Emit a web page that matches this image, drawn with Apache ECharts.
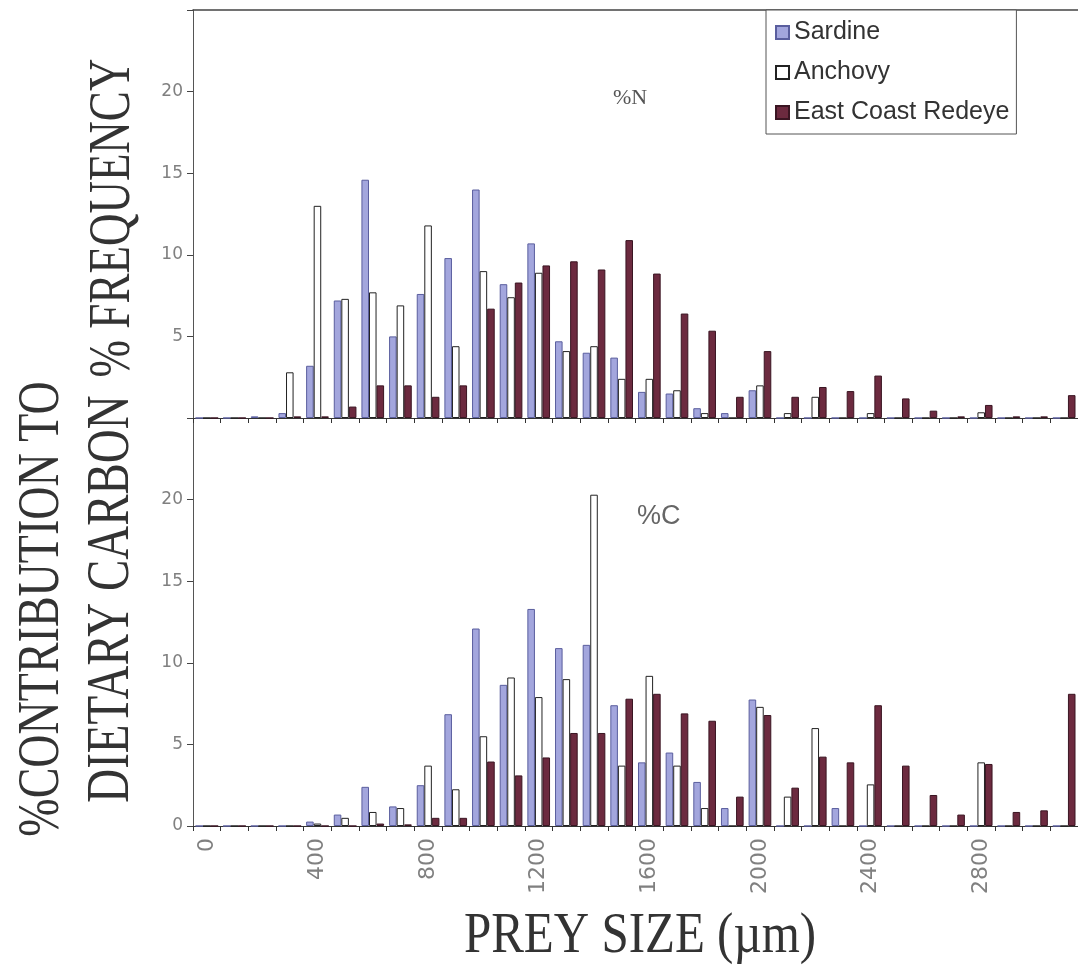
<!DOCTYPE html>
<html>
<head>
<meta charset="utf-8">
<script src="https://cdn.jsdelivr.net/npm/echarts@6/dist/echarts.min.js"></script>
<style>
html,body{margin:0;padding:0;background:#fff;}
#chart{width:1078px;height:966px;}
</style>
</head>
<body>
<div id="chart"></div>
<script>
// Prey size classes (µm)
const categories = ['0','100','200','300','400','500','600','700','800','900','1000','1100','1200','1300','1400','1500',
  '1600','1700','1800','1900','2000','2100','2200','2300','2400','2500','2600','2700','2800','2900','3000','3100'];
const yTicks = [0, 5, 10, 15, 20, 25];

// %N (frequency)
const sardineN = [0,0,0.1,0.3,3.2,7.2,14.6,5.0,7.6,9.8,14.0,8.2,10.7,4.7,4.0,3.7,1.6,1.5,0.6,0.3,1.7,0,0,0,0,0,0,0,0,0,0,0];
const anchovyN = [0,0,0,2.8,13.0,7.3,7.7,6.9,11.8,4.4,9.0,7.4,8.9,4.1,4.4,2.4,2.4,1.7,0.3,0,2.0,0.3,1.3,0,0.3,0,0,0,0.35,0,0,0];
const redeyeN  = [0,0,0,0.1,0.1,0.7,2.0,2.0,1.3,2.0,6.7,8.3,9.35,9.6,9.1,10.9,8.85,6.4,5.35,1.3,4.1,1.3,1.9,1.65,2.6,1.2,0.45,0.1,0.8,0.1,0.1,1.4];

// %C (contribution to dietary carbon)
const sardineC = [0,0,0,0,0.27,0.7,2.4,1.2,2.5,6.85,12.1,8.65,13.3,10.9,11.1,7.4,3.9,4.5,2.7,1.1,7.75,0,0,1.1,0,0,0,0,0,0,0,0];
const anchovyC = [0,0,0,0,0.15,0.5,0.86,1.1,3.7,2.25,5.5,9.1,7.9,9.0,20.3,3.7,9.2,3.7,1.1,0,7.3,1.8,6.0,0,2.55,0,0,0,3.9,0,0,0];
const redeyeC  = [0,0,0,0,0,0,0.15,0.1,0.5,0.5,3.95,3.1,4.2,5.7,5.7,7.8,8.1,6.9,6.45,1.8,6.8,2.35,4.25,3.9,7.4,3.7,1.9,0.7,3.8,0.86,0.96,8.1];

const names = ['Sardine', 'Anchovy', 'East Coast Redeye'];
const styles = [
  {color: '#a3a6dd', borderColor: '#5a5e9e', borderWidth: 1},
  {color: '#ffffff', borderColor: '#222222', borderWidth: 1},
  {color: '#6c2a3f', borderColor: '#3a1522', borderWidth: 1}
];

const chart = echarts.init(document.getElementById('chart'), null, {renderer: 'canvas'});

const yMin = yTicks[0], yMax = yTicks[yTicks.length - 1], yStep = yTicks[1] - yTicks[0];

function xAxisFor(gridIndex, showLabels) {
  return {
    type: 'category', gridIndex: gridIndex, data: categories,
    boundaryGap: true,
    axisLine: {lineStyle: {color: '#333', width: 1.2}},
    axisTick: {show: true, interval: 0, length: 5, lineStyle: {color: '#333'}},
    axisLabel: {
      show: showLabels, interval: 3, rotate: 90, margin: 12,
      color: '#808080', fontFamily: 'DejaVu Sans', fontSize: 22
    },
    splitLine: {show: false}
  };
}
function yAxisFor(gridIndex, hideZero) {
  return {
    type: 'value', gridIndex: gridIndex, min: yMin, max: yMax, interval: yStep,
    axisLine: {show: true, lineStyle: {color: '#555', width: 1}},
    axisTick: {show: true, length: 6, lineStyle: {color: '#444'}},
    axisLabel: {
      color: '#808080', fontFamily: 'DejaVu Sans', fontSize: 17, margin: 10,
      formatter: function (v) {
        if (v === yMax) return '';
        if (hideZero && v === 0) return '';
        return String(v);
      }
    },
    splitLine: {show: false}
  };
}

const seriesList = [];
[[sardineN, anchovyN, redeyeN], [sardineC, anchovyC, redeyeC]].forEach(function (group, g) {
  group.forEach(function (arr, i) {
    seriesList.push({
      name: names[i], type: 'bar', xAxisIndex: g, yAxisIndex: g,
      data: arr, barGap: '0%', barCategoryGap: '18%',
      itemStyle: styles[i], emphasis: {disabled: true}, animation: false
    });
  });
});

const option = {
  backgroundColor: '#ffffff',
  animation: false,
  grid: [
    {left: 193, right: 0, top: 10, height: 408},
    {left: 193, right: 0, top: 418, height: 408}
  ],
  xAxis: [
    xAxisFor(0, false),
    xAxisFor(1, true),
    {type: 'category', gridIndex: 0, position: 'top', data: categories,
     axisLine: {lineStyle: {color: '#444', width: 1.5}}, axisTick: {show: false}, axisLabel: {show: false}}
  ],
  yAxis: [yAxisFor(0, true), yAxisFor(1, false)],
  legend: {
    data: names, orient: 'vertical', left: 766, top: 10,
    icon: 'rect', itemWidth: 13, itemHeight: 13, itemGap: 15,
    padding: [10, 7, 9, 9],
    borderColor: '#555', borderWidth: 1, backgroundColor: '#fff',
    textStyle: {fontFamily: 'Liberation Sans', fontSize: 25, color: '#333'},
    selectedMode: false
  },
  graphic: [
    {type: 'text', left: 613, top: 87, style: {text: '%N', fontFamily: 'Liberation Serif', fontSize: 22, fill: '#555'}},
    {type: 'text', left: 637, top: 503, style: {text: '%C', fontFamily: 'Liberation Sans', fontSize: 27, fill: '#666'}},
    {type: 'text', x: 114, y: 218, rotation: Math.PI / 2, scaleY: 1.3,
     style: {text: '% FREQUENCY', fontFamily: 'Liberation Serif', fontSize: 45, fill: '#333', align: 'center', verticalAlign: 'middle'}},
    {type: 'text', x: 42, y: 609, rotation: Math.PI / 2, scaleY: 1.3,
     style: {text: '%CONTRIBUTION TO', fontFamily: 'Liberation Serif', fontSize: 46, fill: '#333', align: 'center', verticalAlign: 'middle'}},
    {type: 'text', x: 112, y: 599, rotation: Math.PI / 2, scaleY: 1.3,
     style: {text: 'DIETARY CARBON', fontFamily: 'Liberation Serif', fontSize: 47, fill: '#333', align: 'center', verticalAlign: 'middle'}},
    {type: 'text', x: 640, y: 937, scaleY: 1.15,
     style: {text: 'PREY SIZE (µm)', fontFamily: 'Liberation Serif', fontSize: 49, fill: '#333', align: 'center', verticalAlign: 'middle'}}
  ],
  series: seriesList
};
chart.setOption(option);
</script>
</body>
</html>
